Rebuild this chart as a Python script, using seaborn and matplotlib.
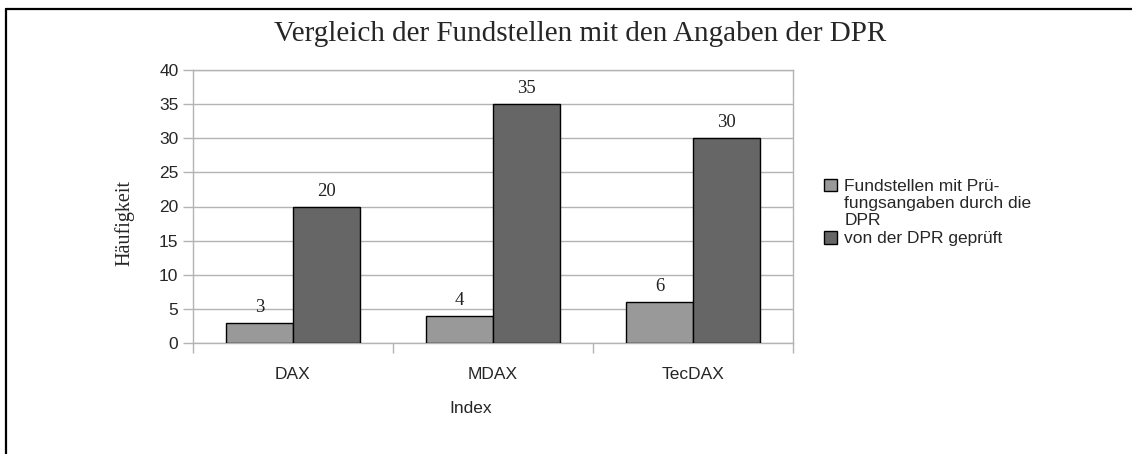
import matplotlib
matplotlib.use("Agg")
import matplotlib.pyplot as plt
import seaborn as sns
import pandas as pd
from matplotlib.lines import Line2D

categories = ["DAX", "MDAX", "TecDAX"]
series_names = ["Fundstellen mit Prü-\nfungsangaben durch die\nDPR", "von der DPR geprüft"]
fundstellen = [3, 4, 6]
geprueft = [20, 35, 30]
yticks = [0, 5, 10, 15, 20, 25, 30, 35, 40]

df = pd.DataFrame({
    "Index": categories * 2,
    "Serie": [series_names[0]] * 3 + [series_names[1]] * 3,
    "Wert": fundstellen + geprueft,
})

sns.set_theme(style="white")
plt.rcParams["font.family"] = ["Liberation Sans", "DejaVu Sans"]

W, H = 1132, 454
fig = plt.figure(figsize=(W / 100, H / 100), dpi=100)
ax = fig.add_axes([193 / W, 1 - 343 / H, 600 / W, 273 / H])

grid_c = "#b3b3b3"
sns.barplot(data=df, x="Index", y="Wert", hue="Serie", ax=ax,
            palette=["#999999", "#666666"], width=0.667, dodge=True,
            edgecolor="black", linewidth=1, saturation=1, errorbar=None,
            zorder=3)

ax.set_ylim(0, 40)
ax.set_xlim(-0.5, 2.5)
ax.set_yticks(yticks)
ax.yaxis.grid(True, color=grid_c, linewidth=1, zorder=0)
ax.set_axisbelow(True)
for s in ax.spines.values():
    s.set_color(grid_c)
    s.set_linewidth(1)
    s.set_zorder(1)
ax.tick_params(axis="y", length=7, color=grid_c, width=1, labelsize=12.5, pad=3.5,
               left=True)
ax.tick_params(axis="x", which="major", length=0, labelsize=12.5, pad=17)
ax.set_xticks([-0.5, 0.5, 1.5, 2.5], minor=True)
ax.tick_params(axis="x", which="minor", length=7, color=grid_c, width=1, bottom=True)

for cont in ax.containers:
    ax.bar_label(cont, fmt="%d", padding=5, fontsize=13.5,
                 fontfamily="Liberation Serif", color="#222222")

ax.set_ylabel("Häufigkeit", fontfamily="Liberation Serif", fontsize=14.5)
ax.yaxis.set_label_coords(-(193 - 134) / 600, (343 - 223) / 273)
ax.set_xlabel("Index", fontsize=12.5)
ax.xaxis.set_label_coords((471 - 193) / 600, -(401 - 343) / 273)

fig.text(580 / W, 1 - 34 / H, "Vergleich der Fundstellen mit den Angaben der DPR",
         ha="center", va="center", fontfamily="Liberation Serif", fontsize=21)

leg = ax.legend(loc="upper left", bbox_to_anchor=(808 / W, 1 - 163 / H),
                bbox_transform=fig.transFigure, frameon=False, fontsize=12.5,
                handlelength=0.75, handleheight=0.75, handletextpad=0.45,
                labelspacing=0.15, title=None)
for t in leg.get_texts():
    t.set_linespacing(1.2)
for h in leg.legend_handles:
    h.set_edgecolor("black")
    h.set_linewidth(1)
for col in leg._legend_handle_box.get_children():
    for row in col.get_children():
        row.align = "top"

fig.add_artist(Line2D([6 / W, 6 / W], [0, 1 - 9 / H], transform=fig.transFigure,
                      color="black", linewidth=1.6))
fig.add_artist(Line2D([6 / W, 1], [1 - 9 / H, 1 - 9 / H], transform=fig.transFigure,
                      color="black", linewidth=1.6))

fig.savefig("out.png", dpi=100, facecolor="white")
